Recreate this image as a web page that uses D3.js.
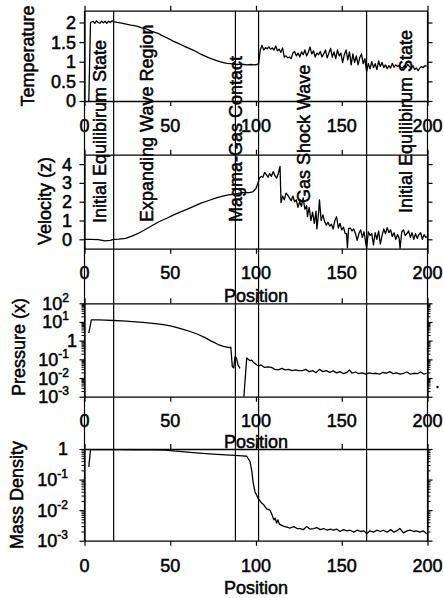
<!DOCTYPE html>
<html>
<head>
<meta charset="utf-8">
<script src="https://cdnjs.cloudflare.com/ajax/libs/d3/7.8.5/d3.min.js"></script>
<style>
body { margin: 0; background: #fff; }
svg { display: block; }
text { font-family: "Liberation Sans", Arial, sans-serif; font-size: 18px; fill: #000; stroke: #000; stroke-width: 0.5px; }
</style>
</head>
<body>
<svg width="443" height="598"></svg>
<script>
// x axis and region markers
const xTicks = [0, 50, 100, 150, 200];
const markerPositions = [0, 17, 88, 101.5, 164.5, 200];
const regionNames = ['Initial Equilibirum State', 'Expanding Wave Region', 'Magma-Gas Contact', 'Gas Shock Wave', 'Initial Equilibirum State'];
const regionPositions = [12.5, 40, 92, 131.5, 191];

const tempTicks = [0, 0.5, 1, 1.5, 2];
const velocityTicks = [0, 1, 2, 3, 4];
const pressureTicks = [1e-3, 1e-2, 1e-1, 1, 1e1, 1e2];
const densityTicks = [1e-3, 1e-2, 1e-1, 1];

// [position, value]
const temperature = [
  [2.5, 0], [3.5, 2.0], [5, 2.03], [6, 1.98], [7, 2.04], [8, 2.0], [9, 1.98], [10, 2.03], [11, 1.99],
  [12, 2.03], [13, 1.98], [14, 2.03], [15, 2.0], [16, 2.04], [17, 2.02], [19, 2.0], [21, 1.99], [23, 1.97],
  [25, 1.95], [27, 1.93], [29, 1.92], [31, 1.9], [33, 1.87], [35, 1.85], [37, 1.82], [39, 1.78], [41, 1.75],
  [43, 1.72], [45, 1.67], [47, 1.63], [49, 1.59], [51, 1.54], [53, 1.5], [55, 1.46], [57, 1.42], [59, 1.38],
  [61, 1.34], [63, 1.3], [65, 1.26], [67, 1.21], [69, 1.17], [71, 1.13], [73, 1.09], [75, 1.06], [77, 1.03],
  [79, 1.0], [81, 0.98], [83, 0.96], [85, 0.95], [87, 0.94], [89, 0.93], [91, 0.94], [93, 0.93], [95, 0.92],
  [97, 0.93], [99, 0.92], [100.5, 0.93], [101.5, 0.95], [102.5, 1.3], [103.5, 1.42], [104.5, 1.3], [105.5, 1.36],
  [106.5, 1.33], [107.5, 1.38], [108.5, 1.32], [109.5, 1.35], [110.5, 1.3], [111.5, 1.4], [112.5, 1.28],
  [113.5, 1.32], [114.5, 1.24], [115.5, 1.35], [116.5, 1.12], [117.5, 1.15], [118.5, 1.1], [119.5, 1.12],
  [120.5, 1.08], [121.5, 1.22], [122.5, 1.26], [123.5, 1.15], [124.5, 1.22], [125.5, 1.12], [126.5, 1.25],
  [127.5, 1.18], [128.5, 1.3], [129.5, 1.15], [130.5, 1.24], [131.5, 1.38], [132.5, 1.2], [133.5, 1.28],
  [134.5, 1.12], [135.5, 1.22], [136.5, 1.18], [137.5, 1.26], [138.5, 1.12], [139.5, 1.2], [140.5, 1.3],
  [141.5, 1.1], [142.5, 1.22], [143.5, 1.34], [144.5, 1.12], [145.5, 1.25], [146.5, 1.08], [147.5, 1.3],
  [148.5, 1.15], [149.5, 1.22], [150.5, 0.98], [151.5, 1.18], [152.5, 1.3], [153.5, 1.05], [154.5, 1.25],
  [155.5, 0.92], [156.5, 1.2], [157.5, 0.98], [158.5, 1.15], [159.5, 0.92], [160.5, 1.1], [161.5, 1.2],
  [162.5, 0.95], [163.5, 1.08], [164.5, 0.75], [165.5, 0.95], [166.5, 0.82], [167.5, 1.0], [168.5, 0.85],
  [169.5, 0.95], [170.5, 0.8], [171.5, 1.02], [172.5, 0.88], [173.5, 0.98], [174.5, 0.85], [175.5, 0.92],
  [176.5, 0.82], [177.5, 0.9], [178.5, 0.84], [179.5, 0.96], [180.5, 0.86], [181.5, 0.92], [182.5, 0.88],
  [183.5, 0.9], [184.5, 0.86], [185.5, 0.84], [186.5, 0.9], [187.5, 0.86], [188.5, 0.93], [189.5, 0.88],
  [190.5, 0.82], [191.5, 0.9], [192.5, 0.8], [193.5, 0.84], [194.5, 0.77], [195.5, 0.84], [196.5, 0.88],
  [197.5, 0.85], [198.5, 0.9], [199.5, 0.88]
];

const velocity = [
  [0, 0], [4, 0], [8, -0.02], [12, -0.08], [15, -0.06], [17, 0], [20, 0.01], [24, 0.05], [28, 0.18],
  [32, 0.35], [36, 0.55], [40, 0.76], [44, 0.96], [48, 1.12], [52, 1.3], [56, 1.46], [60, 1.6], [64, 1.76],
  [68, 1.92], [72, 2.05], [76, 2.18], [80, 2.28], [84, 2.36], [88, 2.42], [92, 2.48], [96, 2.48], [98, 2.52],
  [100, 2.7], [101, 2.95], [102, 3.25], [103, 3.35], [104, 3.3], [105, 3.55], [106, 3.45], [107, 3.3],
  [108, 3.5], [109, 3.35], [110, 3.6], [111, 3.4], [112, 3.25], [113, 3.5], [114, 3.88], [114.6, 1.95],
  [115.5, 2.3], [116.5, 2.1], [117.5, 2.45], [118.5, 2.35], [119.5, 2.2], [120.5, 2.05], [121.5, 2.3],
  [122.5, 2.0], [123.5, 2.1], [124.5, 1.7], [125.5, 2.0], [126.5, 1.75], [127.5, 2.2], [128.5, 1.6],
  [129.5, 1.8], [130, 1.2], [131, 1.7], [132, 1.0], [133, 1.45], [134, 0.85], [135, 1.5], [135.5, 0.55],
  [136.5, 1.4], [137, 2.1], [138, 1.0], [139, 1.3], [140, 0.95], [141, 0.75], [142, 0.9], [143, 0.7],
  [144, 0.8], [145, 0.55], [146, 1.0], [147, 1.2], [148, 0.6], [149, 0.85], [150, 0.5], [151, 0.65],
  [152, 0.3], [152.8, 0.3], [153.3, -0.45], [154, 0.57], [155, 0.6], [156, 0.45], [157, 0.55], [158, 0.3],
  [159, -0.05], [160, 0.3], [161, 0.5], [162, 0.1], [163, 0.4], [164.5, -0.5], [165.5, 0.4], [166.5, 0.2],
  [167.5, 0.3], [168.5, -0.3], [169.5, 0.35], [170.5, 0.0], [171.5, 0.45], [172.5, -0.25], [173.5, 0.2],
  [174.5, 0.55], [175.5, 0.3], [176.5, 0.62], [177.5, 0.35], [178.5, 0.5], [179.5, 0.15], [180.5, 0.35],
  [181.5, 0.0], [182.5, 0.25], [183.5, 0.05], [184, -0.5], [185, 0.4], [186, 0.5], [187, 0.2], [188, 0.3],
  [189, 0.45], [190, 0.1], [191, 0.35], [192, 0.0], [193, 0.3], [194, 0.05], [195, 0.25], [196, 0.35],
  [197, 0.0], [198, 0.25], [199, 0.1], [200, 0.15]
];

const pressure = [
  [2.5, 2.5], [4, 13], [8, 13], [12, 12.5], [17, 12], [22, 11.5], [28, 10.5], [34, 9.5], [40, 8.5],
  [46, 7.2], [50, 6.2], [54, 5.0], [58, 3.9], [62, 3.0], [66, 2.2], [70, 1.5], [74, 0.95], [78, 0.62],
  [81, 0.5], [84.5, 0.42], [85.3, 0.45], [86.2, 0.04], [87, 0.035], [87.8, 0.14], [88.6, 0.12], [89.5, 0.05],
  [90.7, 0.033], [91.5, null], [92.6, 0.0004], [94.6, 0.12], [95.5, 0.1], [96.5, 0.085], [97.5, 0.09],
  [98.5, 0.07], [99.5, 0.06], [100.5, 0.05], [101.5, 0.045], [103, 0.05], [105, 0.037], [107, 0.04],
  [109, 0.037], [111, 0.029], [113, 0.027], [115, 0.033], [117, 0.027], [119, 0.029], [121, 0.025],
  [123, 0.027], [125, 0.025], [127, 0.025], [129, 0.029], [131, 0.022], [133, 0.025], [135, 0.019],
  [137, 0.029], [139, 0.022], [141, 0.025], [143, 0.02], [145, 0.024], [147, 0.019], [149, 0.022],
  [151, 0.017], [153, 0.02], [154.5, 0.027], [156, 0.018], [158, 0.021], [160, 0.017], [162, 0.019],
  [164, 0.016], [166, 0.019], [168, 0.017], [170, 0.018], [172, 0.016], [174, 0.02], [176, 0.018],
  [178, 0.022], [180, 0.017], [182, 0.019], [184, 0.016], [186, 0.018], [188, 0.021], [190, 0.016],
  [192, 0.018], [194, 0.017], [196, 0.021], [198, 0.016], [199.5, 0.018]
];

const density = [
  [2.5, 0.26], [3.5, 0.95], [10, 0.95], [20, 0.95], [30, 0.94], [40, 0.93], [47, 0.92], [55, 0.84],
  [65, 0.75], [75, 0.68], [85, 0.63], [92, 0.6], [94.6, 0.58], [96.5, 0.39], [97.5, 0.2], [98.4, 0.076],
  [99.4, 0.04], [101.3, 0.024], [103.3, 0.017], [104.5, 0.015], [106.2, 0.011], [108.1, 0.01], [109, 0.0079],
  [110.4, 0.0048], [111.2, 0.0055], [112, 0.0038], [112.8, 0.0048], [113.6, 0.0035], [115.9, 0.003],
  [118, 0.0028], [120, 0.0026], [122, 0.0029], [124, 0.0025], [125.7, 0.0025], [127.5, 0.0023],
  [129.5, 0.0029], [131.5, 0.0024], [133.5, 0.0025], [135.4, 0.0027], [137.5, 0.0023], [139.5, 0.0025],
  [141.5, 0.0022], [143.5, 0.0024], [145.1, 0.0022], [147, 0.0024], [149, 0.002], [151, 0.0023],
  [153, 0.0021], [154.8, 0.0022], [157, 0.0019], [159, 0.0022], [161, 0.002], [163, 0.0021], [164.5, 0.0017],
  [166.5, 0.0021], [168.5, 0.0019], [170.5, 0.0022], [172.5, 0.002], [174.2, 0.0022], [176.5, 0.0019],
  [178.5, 0.0023], [180.5, 0.0019], [182, 0.0021], [183.9, 0.0025], [186, 0.0018], [188, 0.0021],
  [190, 0.0022], [192, 0.002], [193.6, 0.0021], [195.5, 0.0019], [197.5, 0.0021], [199.5, 0.0017]
];

const svg = d3.select('svg');

const x = d3.scaleLinear().domain([0, 200]).range([84.5, 427.5]);

const logMinor = (lo, hi) => {
  const out = [];
  for (let e = lo; e < hi; e++) for (let m = 2; m <= 9; m++) out.push(m * Math.pow(10, e));
  return out;
};

const panels = [
  { name: 'temp', data: temperature, log: false, domain: [0, 2.3], top: 10.7, bottom: 101, ticks: tempTicks,
    labelX: 76, xLabelY: 131.5, title: 'Temperature', titleX: 34, titleY: 56, positionY: null },
  { name: 'vel', data: velocity, log: false, domain: [-0.5, 4.5], top: 154.7, bottom: 248.7, ticks: velocityTicks,
    labelX: 72, xLabelY: 279, title: 'Velocity (z)', titleX: 51, titleY: 201, positionY: 302 },
  { name: 'pres', data: pressure, log: true, domain: [1e-3, 1e2], top: 303.3, bottom: 396.7, ticks: pressureTicks,
    labelX: 69, xLabelY: 427, title: 'Pressure (x)', titleX: 25, titleY: 347, positionY: 448 },
  { name: 'dens', data: density, log: true, domain: [1e-3, 1], top: 449, bottom: 540.7, ticks: densityTicks,
    labelX: 68, xLabelY: 572, title: 'Mass Density', titleX: 23, titleY: 495, positionY: 594 }
];

const defs = svg.append('defs');

panels.forEach(p => {
  const y = (p.log ? d3.scaleLog() : d3.scaleLinear()).domain(p.domain).range([p.bottom, p.top]);
  const g = svg.append('g');

  defs.append('clipPath').attr('id', 'clip-' + p.name)
    .append('rect')
    .attr('x', x(0)).attr('y', p.top)
    .attr('width', x(200) - x(0)).attr('height', p.bottom - p.top);

  // frame with outward ticks
  const axes = [
    [d3.axisTop(x).tickValues(xTicks), `translate(0,${p.top})`],
    [d3.axisBottom(x).tickValues(xTicks), `translate(0,${p.bottom})`],
    [d3.axisLeft(y).tickValues(p.ticks), `translate(${x(0)},0)`],
    [d3.axisRight(y).tickValues(p.ticks), `translate(${x(200)},0)`]
  ];
  axes.forEach(([ax, tr]) => {
    const a = g.append('g').attr('transform', tr)
      .call(ax.tickSize(5).tickSizeOuter(0).tickFormat(''));
    a.select('.domain').attr('stroke', '#000').attr('stroke-width', 1.3);
    a.selectAll('.tick line').attr('stroke', '#000').attr('stroke-width', 1.2);
  });

  if (p.log) {
    const minor = logMinor(Math.log10(p.domain[0]), Math.log10(p.domain[1]));
    [[d3.axisLeft(y), x(0)], [d3.axisRight(y), x(200)]].forEach(([ax, px]) => {
      const a = g.append('g').attr('transform', `translate(${px},0)`)
        .call(ax.tickValues(minor).tickSize(3).tickSizeOuter(0).tickFormat(''));
      a.select('.domain').remove();
      a.selectAll('.tick line').attr('stroke', '#000').attr('stroke-width', 1);
    });
  }

  // y tick labels
  p.ticks.forEach(t => {
    const ty = y(t);
    if (!p.log) {
      g.append('text').attr('x', p.labelX).attr('y', ty).attr('dy', '0.36em')
        .attr('text-anchor', 'end').text(String(t));
    } else {
      const e = Math.round(Math.log10(t));
      if (e === 0) {
        g.append('text').attr('x', p.labelX + (p.name === 'pres' ? 8 : 0)).attr('y', ty).attr('dy', '0.36em')
          .attr('text-anchor', 'end').text('1');
      } else {
        const tx = g.append('text').attr('x', p.labelX).attr('y', ty + 6.5).attr('text-anchor', 'end');
        tx.append('tspan').text('10');
        tx.append('tspan').attr('dy', -8).attr('font-size', 12).text(String(e));
      }
    }
  });

  // x tick labels
  xTicks.forEach(t => {
    g.append('text').attr('x', x(t)).attr('y', p.xLabelY).attr('text-anchor', 'middle').text(t);
  });

  if (p.positionY) {
    g.append('text').attr('x', x(100)).attr('y', p.positionY).attr('text-anchor', 'middle').text('Position');
  }

  g.append('text')
    .attr('transform', `translate(${p.titleX},${p.titleY}) rotate(-90)`)
    .attr('text-anchor', 'middle')
    .text(p.title);

  const line = d3.line()
    .defined(d => d[1] !== null)
    .x(d => x(d[0]))
    .y(d => y(d[1]));

  g.append('path')
    .datum(p.data)
    .attr('clip-path', `url(#clip-${p.name})`)
    .attr('fill', 'none')
    .attr('stroke', '#000')
    .attr('stroke-width', 1.3)
    .attr('stroke-linejoin', 'round')
    .attr('d', line);
});

// vertical region markers across all panels
const figTop = panels[0].top;
const figBottom = panels[panels.length - 1].bottom;
svg.append('g').selectAll('line')
  .data(markerPositions)
  .join('line')
  .attr('x1', d => x(d)).attr('x2', d => x(d))
  .attr('y1', figTop).attr('y2', figBottom)
  .attr('stroke', '#000')
  .attr('stroke-width', 1.2);

// rotated region labels
const regionStartY = [223, 222, 222, 203, 213];
svg.append('g').selectAll('text')
  .data(regionNames)
  .join('text')
  .attr('transform', (d, i) => `translate(${x(regionPositions[i])},${regionStartY[i]}) rotate(-90)`)
  .attr('text-anchor', 'start')
  .text(d => d);

// stray scan dot at the right of the pressure panel
svg.append('circle').attr('cx', 437.5).attr('cy', 387).attr('r', 1.2).attr('fill', '#000');
</script>
</body>
</html>
